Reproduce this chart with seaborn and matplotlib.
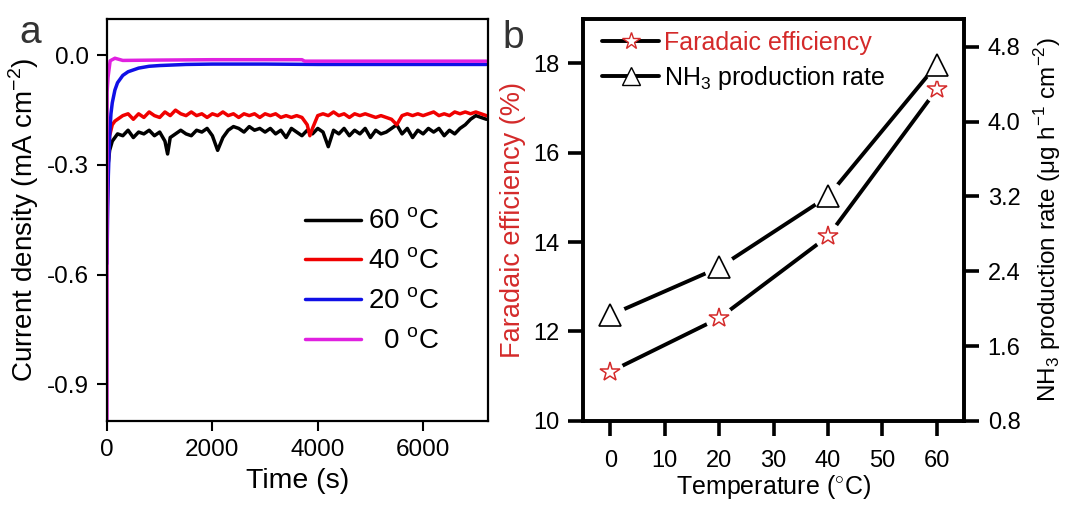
import numpy as np
import pandas as pd
import matplotlib
matplotlib.use("Agg")
import matplotlib.pyplot as plt
from matplotlib.lines import Line2D
import seaborn as sns

# ---- panel a: chronoamperometry ----
t_black = [0, 20, 50, 100, 150, 200, 300, 400, 500, 600, 700, 800, 900, 1000, 1100, 1150, 1200,
           1300, 1400, 1500, 1600, 1700, 1800, 1900, 2000, 2100, 2200, 2300, 2400, 2500, 2600,
           2700, 2800, 2900, 3000, 3100, 3200, 3300, 3400, 3500, 3600, 3700, 3800, 3900, 4000,
           4100, 4200, 4300, 4400, 4500, 4600, 4700, 4800, 4900, 5000, 5100, 5200, 5300, 5400,
           5500, 5600, 5700, 5800, 5900, 6000, 6100, 6200, 6300, 6400, 6500, 6600, 6700, 6800,
           6900, 7000, 7100, 7200]
j_black = [-0.36, -0.30, -0.26, -0.235, -0.225, -0.215, -0.22, -0.205, -0.225, -0.21, -0.215,
           -0.205, -0.22, -0.21, -0.235, -0.27, -0.225, -0.215, -0.205, -0.215, -0.22, -0.205,
           -0.21, -0.20, -0.22, -0.26, -0.225, -0.205, -0.195, -0.20, -0.21, -0.195, -0.205,
           -0.20, -0.21, -0.20, -0.215, -0.205, -0.225, -0.20, -0.21, -0.22, -0.205, -0.215,
           -0.20, -0.21, -0.25, -0.205, -0.215, -0.20, -0.22, -0.205, -0.215, -0.20, -0.225,
           -0.205, -0.215, -0.21, -0.20, -0.19, -0.215, -0.20, -0.225, -0.205, -0.215, -0.20,
           -0.21, -0.20, -0.22, -0.205, -0.215, -0.20, -0.19, -0.175, -0.165, -0.17, -0.175]

t_red = [0, 20, 50, 100, 150, 200, 300, 400, 500, 600, 700, 800, 900, 1000, 1100, 1200, 1300,
         1400, 1500, 1600, 1700, 1800, 1900, 2000, 2100, 2200, 2300, 2400, 2500, 2600, 2700,
         2800, 2900, 3000, 3100, 3200, 3300, 3400, 3500, 3600, 3700, 3800, 3850, 3900, 4000,
         4100, 4200, 4300, 4400, 4500, 4600, 4700, 4800, 4900, 5000, 5100, 5200, 5300, 5400,
         5500, 5600, 5700, 5800, 5900, 6000, 6100, 6200, 6300, 6400, 6500, 6600, 6700, 6800,
         6900, 7000, 7100, 7200]
j_red = [-0.45, -0.30, -0.22, -0.19, -0.18, -0.175, -0.165, -0.16, -0.175, -0.16, -0.17,
         -0.155, -0.165, -0.17, -0.155, -0.165, -0.15, -0.16, -0.165, -0.155, -0.165, -0.16,
         -0.17, -0.16, -0.165, -0.155, -0.165, -0.16, -0.17, -0.16, -0.165, -0.16, -0.17,
         -0.16, -0.165, -0.16, -0.17, -0.165, -0.17, -0.165, -0.17, -0.19, -0.22, -0.20,
         -0.165, -0.16, -0.165, -0.155, -0.165, -0.16, -0.17, -0.16, -0.165, -0.16, -0.165,
         -0.17, -0.165, -0.17, -0.175, -0.19, -0.165, -0.16, -0.165, -0.16, -0.165, -0.16,
         -0.155, -0.165, -0.16, -0.165, -0.155, -0.16, -0.155, -0.16, -0.155, -0.16, -0.165]

t_blue = [0, 10, 25, 50, 75, 100, 150, 200, 300, 400, 600, 800, 1000, 1500, 2000, 3000, 4000,
          5000, 6000, 7200]
j_blue = [-0.57, -0.45, -0.33, -0.22, -0.16, -0.13, -0.095, -0.075, -0.055, -0.045, -0.035,
          -0.030, -0.028, -0.025, -0.024, -0.024, -0.025, -0.025, -0.025, -0.025]

t_mag = [0, 2, 20, 60, 150, 300, 1000, 2000, 3000, 3700, 3750, 5000, 6000, 7200]
j_mag = [-1.0, -0.10, -0.06, -0.015, -0.008, -0.014, -0.013, -0.012, -0.012, -0.012, -0.016,
         -0.016, -0.016, -0.016]

curve_labels = ["60 $^{\\rm o}$C", "40 $^{\\rm o}$C", "20 $^{\\rm o}$C", "  0 $^{\\rm o}$C"]
curve_colors = ["#000000", "#f00000", "#1010e6", "#e020e0"]

# ---- panel b: FE and NH3 rate vs temperature ----
temperature = [0, 20, 40, 60]
faradaic_eff = [11.1, 12.3, 14.13, 17.42]
nh3_rate = [1.93, 2.44, 3.2, 4.61]

RED = "#d42a2a"

sns.set_style("ticks")
plt.rcParams["font.family"] = ["Liberation Sans", "DejaVu Sans"]
plt.rcParams["mathtext.fontset"] = "custom"
plt.rcParams["mathtext.rm"] = "Liberation Sans"
for key in ["text.color", "axes.labelcolor", "xtick.color", "ytick.color", "axes.edgecolor"]:
    plt.rcParams[key] = "black"

fig = plt.figure(figsize=(10.7, 5.07), dpi=100)
ax_a = fig.add_axes([0.100, 0.170, 0.356, 0.793])
ax_b = fig.add_axes([0.545, 0.170, 0.356, 0.793])

# ---------------- panel a ----------------
frames = []
for t, j, lab in zip([t_black, t_red, t_blue, t_mag], [j_black, j_red, j_blue, j_mag], curve_labels):
    frames.append(pd.DataFrame({"time": t, "j": j, "curve": lab}))
df_a = pd.concat(frames, ignore_index=True)

sns.lineplot(data=df_a, x="time", y="j", hue="curve", hue_order=curve_labels,
             palette=curve_colors, linewidth=2.5, sort=False, estimator=None,
             ax=ax_a, legend=False)

ax_a.set_xlim(0, 7230)
ax_a.set_ylim(-1.0, 0.1)
ax_a.set_xticks([0, 2000, 4000, 6000])
ax_a.set_yticks([0.0, -0.3, -0.6, -0.9])
ax_a.set_yticklabels(["0.0", "-0.3", "-0.6", "-0.9"])
ax_a.tick_params(direction="out", length=7, width=1.5, labelsize=17.5, pad=6)
for s in ax_a.spines.values():
    s.set_linewidth(1.6)
    s.set_visible(True)
ax_a.set_xlabel("Time (s)", fontsize=20.5, labelpad=5)
ax_a.set_ylabel("Current density (mA cm$^{-2}$)", fontsize=20, labelpad=4)

handles_a = [Line2D([], [], color=c, lw=2.5) for c in curve_colors]
ax_a.legend(handles_a, curve_labels, loc="center left", bbox_to_anchor=(0.47, 0.345),
            frameon=False, fontsize=20, handlelength=2.0, handletextpad=0.25,
            labelspacing=0.5, borderpad=0.2)

fig.text(0.018, 0.915, "a", fontsize=28, color="#333333")

# ---------------- panel b ----------------
ax_r = ax_b.twinx()

df_b = pd.DataFrame({"T": temperature, "FE": faradaic_eff, "rate": nh3_rate})
sns.lineplot(data=df_b, x="T", y="FE", color="black", linewidth=2.8, ax=ax_b, zorder=2)
sns.lineplot(data=df_b, x="T", y="rate", color="black", linewidth=2.8, ax=ax_r, zorder=2)

# white halos so lines stop short of the markers
ax_b.plot(df_b["T"], df_b["FE"], ls="none", marker="o", ms=19, mfc="white", mec="white", zorder=3)
ax_r.plot(df_b["T"], df_b["rate"], ls="none", marker="o", ms=21, mfc="white", mec="white", zorder=3)
ax_b.plot(df_b["T"], df_b["FE"], ls="none", marker="*", ms=15, mfc="white", mec=RED, mew=1.1, zorder=4)
ax_r.plot(df_b["T"], df_b["rate"], ls="none", marker="^", ms=16, mfc="white", mec="black", mew=1.2, zorder=4)

ax_b.set_xlim(-5, 65)
ax_b.set_ylim(10, 19)
ax_r.set_ylim(0.8, 5.1)
ax_b.set_xticks([0, 10, 20, 30, 40, 50, 60])
ax_b.set_yticks([10, 12, 14, 16, 18])
ax_r.set_yticks([0.8, 1.6, 2.4, 3.2, 4.0, 4.8])
ax_r.set_yticklabels(["0.8", "1.6", "2.4", "3.2", "4.0", "4.8"])
for ax in (ax_b, ax_r):
    ax.tick_params(direction="out", length=11, width=2.6, labelsize=17, pad=6)
    for s in ax.spines.values():
        s.set_linewidth(2.6)
        s.set_visible(True)
ax_b.tick_params(axis="x", pad=10)

ax_b.set_xlabel("Temperature ($^{\\circ}$C)", fontsize=18, labelpad=1)
ax_b.set_ylabel("Faradaic efficiency (%)", fontsize=19.5, color=RED, labelpad=5)
ax_r.set_ylabel("NH$_3$ production rate (μg h$^{-1}$ cm$^{-2}$)", fontsize=17.5, labelpad=8)

h_fe = Line2D([], [], color="black", lw=2.8, marker="*", ms=13, mfc="white", mec=RED, mew=1.0)
h_rt = Line2D([], [], color="black", lw=2.8, marker="^", ms=13, mfc="white", mec="black", mew=1.0)
leg = ax_b.legend([h_fe, h_rt], ["Faradaic efficiency", "NH$_3$ production rate"],
                  loc="upper left", bbox_to_anchor=(-0.01, 1.025), frameon=False, fontsize=18,
                  handlelength=2.3, handletextpad=0.2, labelspacing=0.35)
leg.get_texts()[0].set_color(RED)

fig.text(0.470, 0.905, "b", fontsize=28, color="#333333")

fig.savefig("out.png", dpi=100)
